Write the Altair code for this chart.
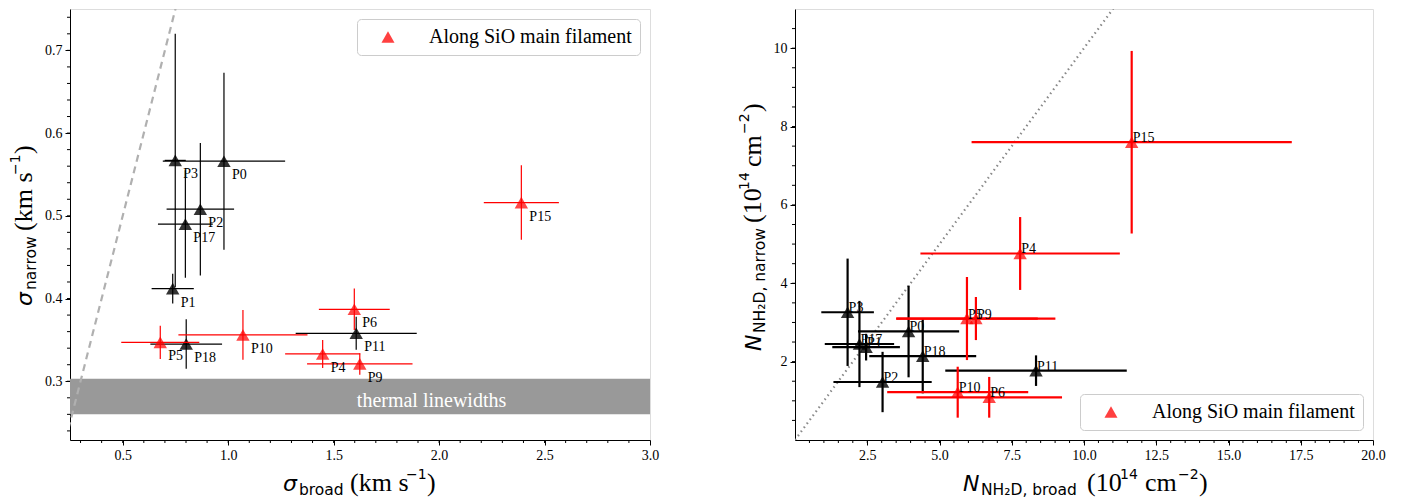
import altair as alt
import pandas as pd
import numpy as np

# --- data ---
names = ["P0", "P1", "P2", "P3", "P4", "P5", "P6", "P9", "P10", "P11", "P15", "P17", "P18"]
on_filament = [False, False, False, False, True, True, True, True, True, False, True, False, False]

# left: linewidths (km s-1)
sig_broad = [0.98, 0.737, 0.868, 0.749, 1.448, 0.678, 1.598, 1.624, 1.07, 1.607, 2.39, 0.797, 0.801]
sig_broad_err = [0.29, 0.10, 0.16, 0.05, 0.178, 0.185, 0.168, 0.25, 0.306, 0.287, 0.178, 0.13, 0.17]
sig_narrow = [0.566, 0.412, 0.508, 0.567, 0.333, 0.347, 0.387, 0.321, 0.356, 0.358, 0.516, 0.49, 0.345]
sig_narrow_err = [0.107, 0.018, 0.08, 0.153, 0.017, 0.02, 0.025, 0.013, 0.03, 0.02, 0.045, 0.065, 0.03]

# right: column densities (1e14 cm-2)
n_broad = [3.93, 2.46, 3.03, 1.82, 7.79, 5.95, 6.72, 6.26, 5.63, 8.34, 11.65, 2.23, 4.42]
n_broad_err = [1.75, 1.17, 1.7, 0.91, 3.45, 2.45, 2.52, 2.75, 2.44, 3.14, 5.54, 1.2, 1.85]
n_narrow = [2.77, 2.37, 1.48, 3.26, 4.76, 3.1, 1.09, 3.1, 1.22, 1.77, 7.6, 2.45, 2.14]
n_narrow_err = [1.17, 0.34, 0.77, 1.37, 0.93, 1.06, 0.52, 0.55, 0.65, 0.39, 2.33, 1.1, 0.95]

thermal_band = [0.26, 0.303]
diag_left = [0.2, 0.8]
diag_right = [0.0, 11.5]

lx_ticks = [0.5, 1.0, 1.5, 2.0, 2.5, 3.0]
ly_ticks = [0.3, 0.4, 0.5, 0.6, 0.7]
rx_ticks = [2.5, 5.0, 7.5, 10.0, 12.5, 15.0, 17.5, 20.0]
ry_ticks = [2, 4, 6, 8, 10]
lx_minor = np.round(np.arange(0.3, 3.0, 0.1), 2).tolist()
ly_minor = np.round(np.arange(0.24, 0.75, 0.02), 2).tolist()
rx_minor = np.arange(0.5, 20.0, 0.5).tolist()
ry_minor = np.arange(0.5, 11.0, 0.5).tolist()

LEG = "Along SiO main filament"
W_L, W_R, H = 580, 578, 431

df = pd.DataFrame({
    "name": names, "fil": on_filament,
    "sb": sig_broad, "sbe": sig_broad_err, "sn": sig_narrow, "sne": sig_narrow_err,
    "nb": n_broad, "nbe": n_broad_err, "nn": n_narrow, "nne": n_narrow_err,
})
df["grp"] = np.where(df["fil"], LEG, "other")


def panel_df(xc, xe, yc, ye):
    d = pd.DataFrame({"name": df["name"], "grp": df["grp"], "fil": df["fil"],
                      "x": df[xc], "y": df[yc]})
    d["xlo"] = df[xc] - df[xe]
    d["xhi"] = df[xc] + df[xe]
    d["ylo"] = df[yc] - df[ye]
    d["yhi"] = df[yc] + df[ye]
    return d


def piece(text, x, y, size, font="Liberation Serif", italic=False, angle=0):
    return alt.Chart(pd.DataFrame({"t": [text]})).mark_text(
        align="left", baseline="alphabetic", font=font, fontSize=size,
        fontStyle="italic" if italic else "normal", angle=angle, color="black"
    ).encode(x=alt.value(x), y=alt.value(y), text="t:N")


def build_panel(d, xs, ys, ax_x, ax_y, err_w, lab_dx, lab_dy, legend_orient,
                xminor, yminor):
    X = lambda f: alt.X(f, type="quantitative", scale=xs, axis=ax_x)
    Y = lambda f: alt.Y(f, type="quantitative", scale=ys, axis=ax_y)
    layers = []
    for fil, col, op in [(False, "black", 0.8), (True, "red", 0.72)]:
        sub = d[d["fil"] == fil]
        ex = alt.Chart(sub).mark_rule(color=col, strokeWidth=err_w).encode(
            x=X("xlo"), x2="xhi", y=Y("y"))
        ey = alt.Chart(sub).mark_rule(color=col, strokeWidth=err_w).encode(
            x=X("x"), y=Y("ylo"), y2="yhi")
        pt = alt.Chart(sub).mark_point(shape="triangle-up", filled=True, size=180,
                                        opacity=op, strokeWidth=0)
        if fil:
            pt = pt.encode(
                x=X("x"), y=Y("y"),
                color=alt.Color("grp:N", scale=alt.Scale(domain=[LEG], range=["red"]),
                                legend=alt.Legend(
                                    title=None, orient=legend_orient, offset=10,
                                    padding=8, cornerRadius=4, fillColor="white",
                                    strokeColor="#cccccc", labelFont="Liberation Serif",
                                    labelFontSize=20, labelColor="black", labelLimit=0,
                                    symbolType="triangle-up", symbolSize=170,
                                    symbolOpacity=0.75, symbolStrokeWidth=0,
                                    symbolOffset=13, labelOffset=31)))
        else:
            pt = pt.encode(x=X("x"), y=Y("y"), color=alt.value("black"))
        layers += [ex, ey, pt]
    labels = alt.Chart(d).mark_text(
        align="left", baseline="alphabetic", font="Liberation Serif", fontSize=14,
        color="black", dx=lab_dx, dy=lab_dy
    ).encode(x=X("x"), y=Y("y"), text="name:N")
    mx = alt.Chart(pd.DataFrame({"x": xminor})).mark_rule(color="black").encode(
        x=X("x"), y=alt.value(H), y2=alt.value(H + 3))
    my = alt.Chart(pd.DataFrame({"y": yminor})).mark_rule(color="black").encode(
        y=Y("y"), x=alt.value(0), x2=alt.value(-3))
    return layers + [labels, mx, my], X, Y


axis_common = dict(title=None, grid=False, labelFlush=False, tickSize=5,
                   labelPadding=3, labelFont="Liberation Serif", labelFontSize=14,
                   labelColor="black", domainColor="black", tickColor="black")

# ---- left panel ----
xs_l = alt.Scale(domain=[0.25, 3.0], nice=False, zero=False)
ys_l = alt.Scale(domain=[0.229, 0.75], nice=False, zero=False)
ax_lx = alt.Axis(values=lx_ticks, format=".1f", **axis_common)
ax_ly = alt.Axis(values=ly_ticks, format=".1f", **axis_common)
dl = panel_df("sb", "sbe", "sn", "sne")
lay_l, XL, YL = build_panel(dl, xs_l, ys_l, ax_lx, ax_ly, 1.2, 8, 18,
                            "top-right", lx_minor, ly_minor)

band = alt.Chart(pd.DataFrame({"lo": [thermal_band[0]], "hi": [thermal_band[1]]})).mark_rect(
    color="#999999").encode(x=alt.value(0), x2=alt.value(W_L), y=YL("lo"), y2="hi")
band_txt = alt.Chart(pd.DataFrame({"x": [1.61], "y": [0.2765], "t": ["thermal linewidths"]})).mark_text(
    align="left", baseline="middle", font="Liberation Serif", fontSize=20, color="white"
).encode(x=XL("x"), y=YL("y"), text="t:N")
diag_l = alt.Chart(pd.DataFrame({"x": diag_left, "y": diag_left})).mark_line(
    clip=True, color="#b0b0b0", strokeWidth=2.2, strokeDash=[7, 5]).encode(x=XL("x"), y=YL("y"))

titles_l = [
    piece("σ", 213, 481.5, 22, "DejaVu Sans", italic=True),
    piece("broad", 229, 485.5, 15.5, "DejaVu Sans"),
    piece("(km s", 280, 481.5, 26),
    piece("−1", 336, 469.5, 14, "DejaVu Sans"),
    piece(")", 357, 481.5, 26),
    piece("σ", -38, 297, 22, "DejaVu Sans", italic=True, angle=270),
    piece("narrow", -34, 281, 15.5, "DejaVu Sans", angle=270),
    piece("(km s", -38, 222, 26, angle=270),
    piece("−1", -50, 166, 14, "DejaVu Sans", angle=270),
    piece(")", -38, 145, 26, angle=270),
]

left = alt.layer(band, band_txt, diag_l, *lay_l, *titles_l).properties(width=W_L, height=H)

# ---- right panel ----
xs_r = alt.Scale(domain=[0, 20], nice=False, zero=False)
ys_r = alt.Scale(domain=[0, 11], nice=False, zero=False)
ax_rx = alt.Axis(values=rx_ticks, format=".1f", **axis_common)
ax_ry = alt.Axis(values=ry_ticks, format="d", **axis_common)
dr = panel_df("nb", "nbe", "nn", "nne")
lay_r, XR, YR = build_panel(dr, xs_r, ys_r, ax_rx, ax_ry, 2.2, 1, 0,
                            "bottom-right", rx_minor, ry_minor)
diag_r = alt.Chart(pd.DataFrame({"x": diag_right, "y": diag_right})).mark_line(
    clip=True, color="#888888", strokeWidth=2.2, strokeDash=[1.5, 3.5]).encode(x=XR("x"), y=YR("y"))

titles_r = [
    piece("N", 168, 481.5, 22, "DejaVu Sans", italic=True),
    piece("NH₂D, broad", 186, 485.5, 15.5, "DejaVu Sans"),
    piece("(10", 292, 481.5, 26),
    piece("14", 325, 469.5, 14, "DejaVu Sans"),
    piece("cm", 350, 481.5, 26),
    piece("−2", 383, 469.5, 14, "DejaVu Sans"),
    piece(")", 404, 481.5, 26),
    piece("N", -34, 342, 22, "DejaVu Sans", italic=True, angle=270),
    piece("NH₂D, narrow", -30, 324, 15.5, "DejaVu Sans", angle=270),
    piece("(10", -34, 214, 26, angle=270),
    piece("14", -46, 181, 14, "DejaVu Sans", angle=270),
    piece("cm", -34, 158, 26, angle=270),
    piece("−2", -46, 125, 14, "DejaVu Sans", angle=270),
    piece(")", -34, 103, 26, angle=270),
]

right = alt.layer(diag_r, *lay_r, *titles_r).properties(width=W_R, height=H)

chart = alt.hconcat(left, right, spacing=77).resolve_scale(
    color="independent").resolve_legend(color="independent").properties(
    padding={"left": 0, "top": 0, "right": 5, "bottom": 0}
).configure_view(stroke="black", strokeWidth=1).configure(background="white")

chart.save("out.html", embed_options={"renderer": "svg", "actions": False})
